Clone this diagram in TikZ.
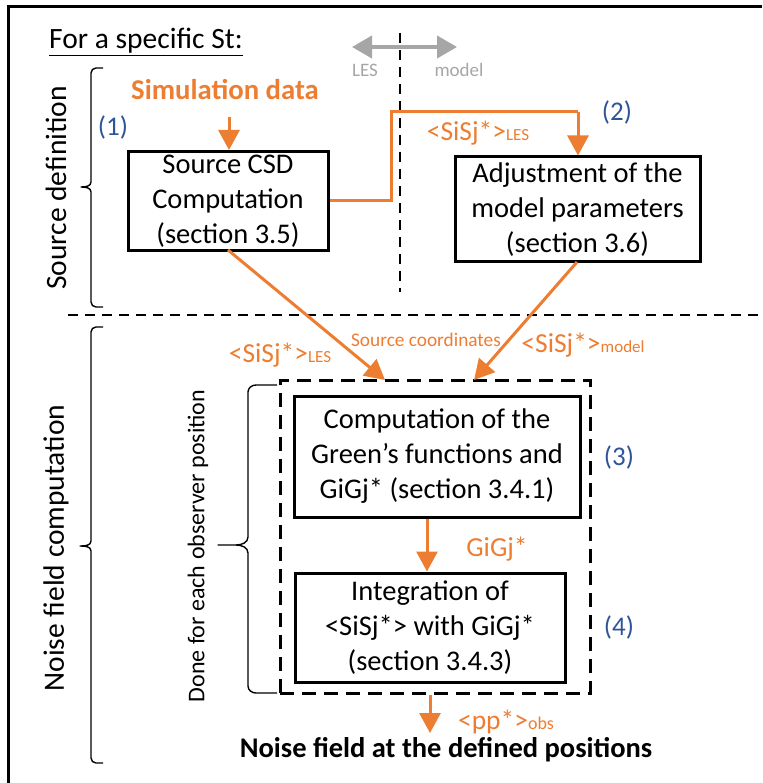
\documentclass[tikz,border=0pt]{standalone}
\usepackage{fontspec}
\setmainfont{Carlito}
\usetikzlibrary{arrows.meta}
\definecolor{orng}{RGB}{237,125,49}
\definecolor{nblue}{RGB}{47,85,151}
\definecolor{lgray}{RGB}{166,166,166}
\newcommand{\fsz}[2]{\fontsize{#1}{#2}\selectfont}
\begin{document}
\begin{tikzpicture}[x=1pt,y=-1pt,
  bx/.style={draw, line width=3pt, align=center, inner sep=0pt, font=\fsz{28.5}{35}},
  lab/.style={text=orng, inner sep=0pt, font=\fsz{27.5}{30}},
  num/.style={text=nblue, inner sep=0pt, font=\fsz{27}{30}},
  oarr/.style={draw=orng, line width=3pt, -{Triangle[width=21pt,length=20pt]}},
  oline/.style={draw=orng, line width=3pt},
  sep/.style={line width=2.2pt, dash pattern=on 10pt off 7pt},
  brc/.style={line width=1.4pt, line join=round},
  rtext/.style={rotate=90, inner sep=0pt, font=\fsz{29.5}{32}}]
\useasboundingbox (0,0) rectangle (762,783);
% frame
\draw[line width=3pt] (8,783) -- (8,7) -- (762,7);
% title
\node[anchor=west, inner sep=0pt, font=\fsz{29.5}{32}] (title) at (49,42) {\underline{For a specific St:}};
% LES / model indicator
\coordinate (ga) at (352,47);
\coordinate (gb) at (457,47);
\draw[lgray, line width=4pt, {Triangle[width=22pt,length=20pt]}-{Triangle[width=22pt,length=20pt]}] (ga) -- (gb);
\node[text=lgray, inner sep=0pt, font=\fsz{19}{20}] (les) at (365,70) {LES};
\node[text=lgray, inner sep=0pt, font=\fsz{19}{20}] (mdl) at (459,70) {model};
% separators
\coordinate (vt) at (400,33);
\coordinate (vb) at (400,292);
\draw[sep] (vt) -- (vb);
\coordinate (hl) at (68,315);
\coordinate (hr) at (762,315);
\draw[sep] (hl) -- (hr);
% side brackets and texts
\draw[brc] (103,68) -- (96,68) to[out=180,in=90] (91,73) -- (91,182) to[out=-90,in=0] (81,187) to[out=0,in=90] (91,192) -- (91,302) to[out=-90,in=180] (96,307) -- (103,307);
\node[rtext] (srcdef) at (56,188) {Source definition};
\draw[brc] (103,327) -- (96,327) to[out=180,in=90] (91,332) -- (91,541) to[out=-90,in=0] (80,546) to[out=0,in=90] (91,551) -- (91,758) to[out=-90,in=180] (96,763) -- (103,763);
\node[rtext] (nfc) at (56,548) {Noise field computation};
\draw[brc] (277,385) -- (256,385) to[out=180,in=90] (248,392) -- (248,537) to[out=-90,in=0] (236,545) -- (218,545) -- (236,545) to[out=0,in=90] (248,553) -- (248,686) to[out=-90,in=180] (256,693) -- (277,693);
\node[rotate=90, inner sep=0pt, font=\fsz{24}{26}] (done) at (198,546) {Done for each observer position};
% top part
\node[text=orng, inner sep=0pt, font=\bfseries\fsz{28.7}{32}] (sim) at (225,90) {Simulation data};
\node[num] (n1) at (113,128) {(1)};
\node[num] (n2) at (617,112) {(2)};
\node[bx, minimum width=200pt, minimum height=99pt] (b1) at (228,201) {Source CSD\\Computation\\(section 3.5)};
\node[bx, minimum width=245pt, minimum height=105pt] (b2) at (577.5,209.5) {Adjustment of the\\model parameters\\(section 3.6)};
\coordinate (s0) at (229,117);
\draw[oarr] (s0) -- (s0 |- b1.north);
\coordinate (c1) at (391,201);
\coordinate (c2) at (391,112);
\coordinate (c3) at (578,112);
\draw[oline] (b1.east |- c1) -- (c1) -- (c2) -- (c3);
\draw[oarr] (c3) -- (c3 |- b2.north);
\node[lab] (l1) at (478,133) {<SiSj*>{\fsz{17}{20}LES}};
% lower part
\node[draw, line width=3pt, dash pattern=on 14pt off 8pt, minimum width=310pt, minimum height=313pt, inner sep=0pt] (db) at (435,536.5) {};
\node[bx, minimum width=286pt, minimum height=121pt] (b3) at (437,456.5) {Computation of the\\Green’s functions and\\GiGj* (section 3.4.1)};
\node[bx, minimum width=270pt, minimum height=109pt] (b4) at (430,627.5) {Integration of\\<SiSj*> with GiGj*\\(section 3.4.3)};
\coordinate (t1) at (385,380);
\coordinate (t2) at (474,380);
\coordinate (f1) at (228,250);
\coordinate (f2) at (577,262);
\draw[oarr] (f1) -- (t1);
\draw[oarr] (f2) -- (t2);
\node[lab] (l2) at (280,355) {<SiSj*>{\fsz{17}{20}LES}};
\node[lab, font=\fsz{19.3}{22}] (sc) at (426,340) {Source coordinates};
\node[lab] (l3) at (583,345) {<SiSj*>{\fsz{17}{20}model}};
\coordinate (mx) at (427,0);
\draw[oarr] (b3.south -| mx) -- (b4.north -| mx);
\node[lab] (gg) at (497,549) {GiGj*};
\node[num] (n3) at (619,457) {(3)};
\node[num] (n4) at (619,627) {(4)};
\coordinate (ox) at (430,0);
\coordinate (oe) at (430,733);
\draw[oarr] (db.south -| ox) -- (oe);
\node[lab] (pp) at (506,722) {<pp*>{\fsz{18}{20}obs}};
\node[inner sep=0pt, font=\bfseries\fsz{28.5}{32}] (res) at (446,750) {Noise field at the defined positions};
\end{tikzpicture}
\end{document}
